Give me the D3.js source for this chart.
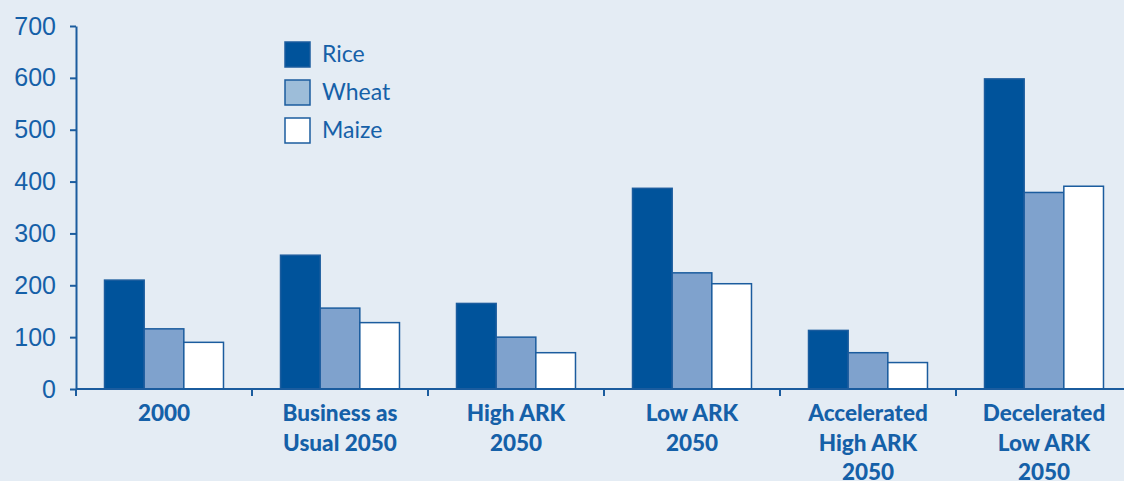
<!DOCTYPE html>
<html><head><meta charset="utf-8">
<script src="https://cdn.jsdelivr.net/npm/d3@7"></script>
<style>
html,body{margin:0;padding:0;background:#e4ecf4;}
svg{display:block;}
</style></head>
<body>
<script>
const categories = [["2000"],["Business as","Usual 2050"],["High ARK","2050"],["Low ARK","2050"],["Accelerated","High ARK","2050"],["Decelerated","Low ARK","2050"]];
const seriesNames = ["Rice","Wheat","Maize"];
const rice  = [210, 258, 165, 387, 113, 598];
const wheat = [116, 156, 100, 224, 70, 379];
const maize = [90, 128, 70, 203, 51, 391];
const yTicks = [0,100,200,300,400,500,600,700];

const W=1124,H=481;
const fills = ["#00539b","#7fa2cd","#ffffff"];
const legendFills = ["#00539b","#9dbdd9","#ffffff"];
const stroke = "#1b5c9e";
const textCol = "#1560a8";

const svg = d3.select("body").append("svg").attr("width",W).attr("height",H);
svg.append("rect").attr("width",W).attr("height",H).attr("fill","#e4ecf4");

const x0 = 76, y0 = 389;
const x = d3.scaleBand().domain(d3.range(categories.length)).range([x0, x0+176*6]).paddingInner(0).paddingOuter(0);
const y = d3.scaleLinear().domain([0,700]).range([y0,26]);
const groupPad = 0.162;
const xs = d3.scaleBand().domain([0,1,2]).range([x.bandwidth()*groupPad, x.bandwidth()*(1-groupPad)]).padding(0);

const data = [rice,wheat,maize];
const g = svg.append("g");
categories.forEach((c,i)=>{
  data.forEach((s,j)=>{
    g.append("rect")
      .attr("x", x(i)+xs(j))
      .attr("y", y(s[i]))
      .attr("width", xs.bandwidth())
      .attr("height", y(0)-y(s[i]))
      .attr("fill", fills[j])
      .attr("stroke", stroke)
      .attr("stroke-width", 1.5);
  });
});

// Y axis
const yAxis = d3.axisLeft(y).tickValues(yTicks).tickSize(6).tickSizeOuter(0).tickPadding(14);
const ya = svg.append("g").attr("transform",`translate(${x0},0)`).call(yAxis);
ya.select(".domain").attr("stroke",stroke).attr("stroke-width",2);
ya.selectAll(".tick line").attr("stroke",stroke).attr("stroke-width",2);
ya.selectAll(".tick text").attr("fill",textCol).style("font-family","'Liberation Sans',Arial,sans-serif").style("font-size","25px");

// X axis
const xTickPos = d3.range(categories.length+1).map(i=> x0 + i*x.step());
const xl = svg.append("g");
xl.append("line").attr("x1",x0).attr("x2",W).attr("y1",y0).attr("y2",y0).attr("stroke",stroke).attr("stroke-width",2);
xTickPos.forEach(p=>{
  xl.append("line").attr("x1",p).attr("x2",p).attr("y1",y0).attr("y2",y0+7).attr("stroke",stroke).attr("stroke-width",2);
});
categories.forEach((c,i)=>{
  const t = xl.append("text").attr("text-anchor","middle")
    .attr("fill",textCol).style("font-family","Lato,sans-serif").style("font-weight","900").style("font-size","22.5px");
  c.forEach((line,k)=>{
    t.append("tspan").attr("x", x(i)+x.bandwidth()/2).attr("y", 421+k*29.5).text(line);
  });
});

// Legend
const leg = svg.append("g");
seriesNames.forEach((n,j)=>{
  leg.append("rect").attr("x",285).attr("y",42+j*38).attr("width",25).attr("height",25)
    .attr("fill",legendFills[j]).attr("stroke",stroke).attr("stroke-width",1.5);
  leg.append("text").attr("x",322).attr("y",62+j*38).text(n)
    .attr("fill",textCol).style("font-family","Lato,sans-serif").style("font-size","23px");
});
</script>
</body></html>
